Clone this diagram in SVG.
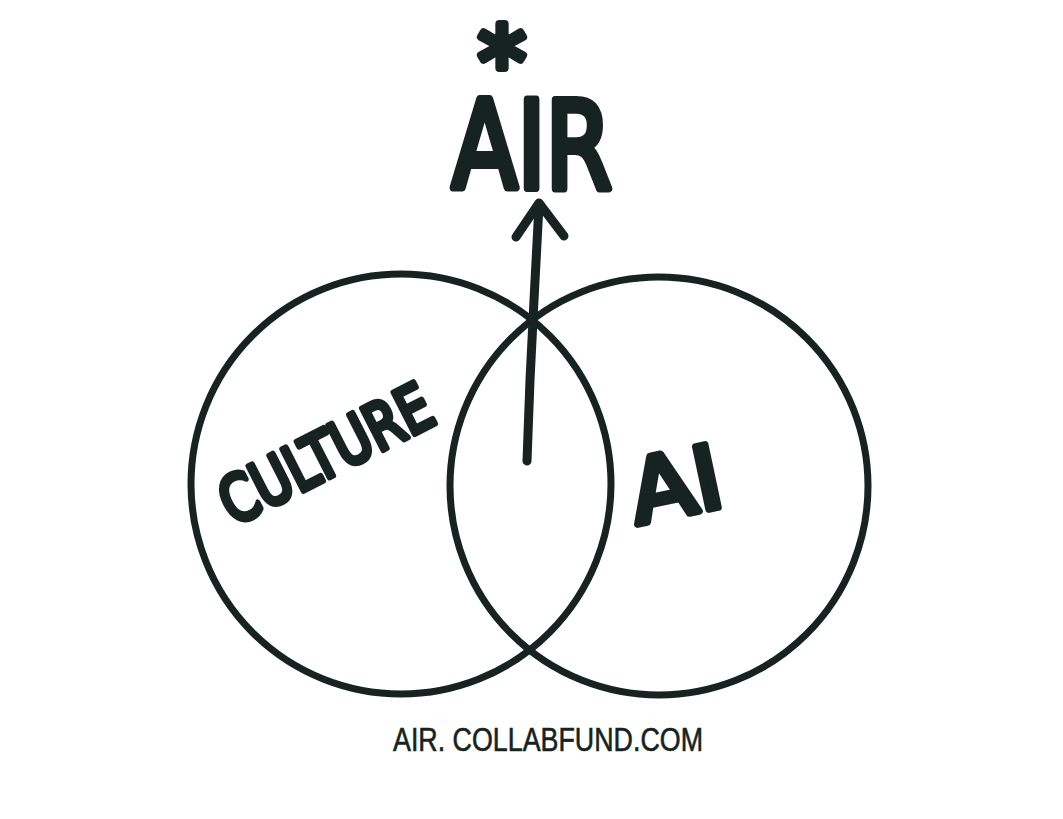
<svg xmlns="http://www.w3.org/2000/svg" width="1063" height="819" viewBox="0 0 1063 819">
<style>
.ink{fill:none;stroke:#162321;stroke-linecap:round;stroke-linejoin:round}
.hand{font-family:"DejaVu Sans",sans-serif;font-weight:normal;fill:#162321;stroke:#162321;stroke-linejoin:round;stroke-linecap:round}
</style>
<rect width="1063" height="819" fill="#ffffff"/>
<g id="culture-circle">
<circle class="ink" cx="401" cy="484" r="210" stroke-width="7"/>
<text class="hand" x="0" y="0" font-size="64" stroke-width="6" text-anchor="middle" textLength="230" lengthAdjust="spacingAndGlyphs" transform="translate(336 474) rotate(-27)">CULTURE</text>
</g>
<g id="ai-circle">
<circle class="ink" cx="659" cy="486" r="209" stroke-width="7"/>
<text class="hand" x="0" y="0" font-size="88" stroke-width="7" text-anchor="middle" textLength="92" lengthAdjust="spacingAndGlyphs" transform="translate(682 515) rotate(-12)">AI</text>
</g>
<g id="air">
<text class="hand" stroke-width="8"><tspan x="502" y="96" font-size="96" text-anchor="middle">*</tspan><tspan x="532" y="188" font-size="122" text-anchor="middle" textLength="160" lengthAdjust="spacingAndGlyphs">AIR</tspan></text>
</g>
<g id="connectors">
<path class="ink" d="M527 461 L530 380 L534 300 L539 205" stroke-width="9"/>
<path class="ink" d="M516 237 L539 203 L564 236" stroke-width="9"/>
</g>
<g id="url">
<text x="548" y="751" font-family="Liberation Sans, sans-serif" font-size="33" fill="#162321" stroke="#162321" stroke-width="0.6" text-anchor="middle" textLength="310" lengthAdjust="spacingAndGlyphs">AIR. COLLABFUND.COM</text>
</g>
</svg>
